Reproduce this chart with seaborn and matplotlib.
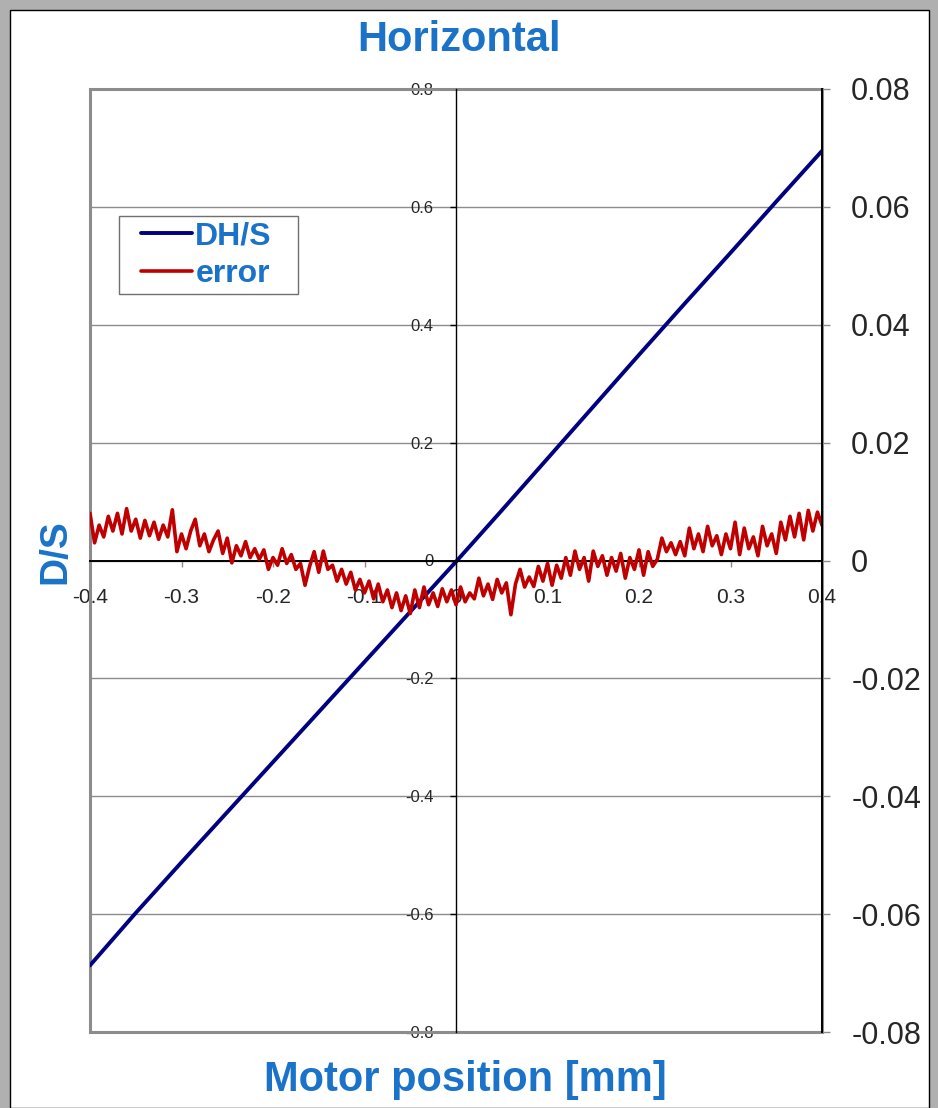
import numpy as np
import pandas as pd
import seaborn as sns
import matplotlib.pyplot as plt
from matplotlib.patches import Rectangle
from matplotlib.lines import Line2D
from matplotlib.ticker import FuncFormatter

# DH/S signal, read every 0.05 mm
dhs_pos = [-0.40, -0.35, -0.30, -0.25, -0.20, -0.15, -0.10, -0.05, 0.00,
           0.05, 0.10, 0.15, 0.20, 0.25, 0.30, 0.35, 0.40]
dhs_val = [-0.687, -0.598, -0.512, -0.427, -0.342, -0.257, -0.172, -0.087, -0.002,
           0.085, 0.173, 0.261, 0.349, 0.436, 0.522, 0.609, 0.695]

# error (right axis), read every 0.005 mm from -0.4 to 0.4
err_val = [
    0.0080, 0.0030, 0.0060, 0.0040, 0.0075, 0.0050, 0.0080, 0.0045, 0.0088, 0.0050,
    0.0070, 0.0038, 0.0068, 0.0042, 0.0065, 0.0036, 0.0060, 0.0040, 0.0086, 0.0015,
    0.0045, 0.0020, 0.0050, 0.0070, 0.0025, 0.0045, 0.0015, 0.0035, 0.0050, 0.0012,
    0.0038, -0.0004, 0.0025, 0.0008, 0.0032, 0.0005, 0.0020, 0.0002, 0.0018, -0.0015,
    0.0005, -0.0008, 0.0020, -0.0005, 0.0010, -0.0015, -0.0005, -0.0042, -0.0010, 0.0015,
    -0.0020, 0.0016, -0.0015, -0.0008, -0.0035, -0.0015, -0.0040, -0.0020, -0.0050, -0.0032,
    -0.0055, -0.0035, -0.0065, -0.0040, -0.0070, -0.0050, -0.0080, -0.0055, -0.0085, -0.0060,
    -0.0090, -0.0050, -0.0080, -0.0045, -0.0075, -0.0055, -0.0078, -0.0048, -0.0070, -0.0050,
    -0.0075, -0.0045, -0.0070, -0.0055, -0.0065, -0.0030, -0.0060, -0.0040, -0.0066, -0.0032,
    -0.0055, -0.0038, -0.0092, -0.0040, -0.0015, -0.0045, -0.0028, -0.0044, -0.0010, -0.0035,
    -0.0005, -0.0042, -0.0008, -0.0030, 0.0005, -0.0025, 0.0016, -0.0015, 0.0005, -0.0035,
    0.0016, -0.0010, 0.0008, -0.0025, 0.0005, -0.0018, 0.0012, -0.0030, 0.0005, -0.0015,
    0.0018, -0.0025, 0.0015, -0.0010, 0.0002, 0.0038, 0.0015, 0.0030, 0.0010, 0.0032,
    0.0008, 0.0055, 0.0020, 0.0045, 0.0015, 0.0058, 0.0025, 0.0042, 0.0010, 0.0045,
    0.0020, 0.0065, 0.0010, 0.0055, 0.0020, 0.0040, 0.0008, 0.0058, 0.0025, 0.0045,
    0.0012, 0.0065, 0.0035, 0.0075, 0.0040, 0.0080, 0.0035, 0.0085, 0.0050, 0.0082,
    0.0060,
]
err_pos = np.linspace(-0.4, 0.4, len(err_val))

x_ticks = [-0.4, -0.3, -0.2, -0.1, 0.0, 0.1, 0.2, 0.3, 0.4]
left_ticks = [-0.8, -0.6, -0.4, -0.2, 0.0, 0.2, 0.4, 0.6, 0.8]
right_ticks = [-0.08, -0.06, -0.04, -0.02, 0.0, 0.02, 0.04, 0.06, 0.08]

BLUE_TXT = '#1a73c9'
NAVY = '#000080'
RED = '#c00000'
GRID = '#8c8c8c'

sns.set_style("white")
plt.rcParams['font.family'] = ['Liberation Sans', 'DejaVu Sans']

W, H = 938, 1108
fig = plt.figure(figsize=(W / 100, H / 100), dpi=100, facecolor='#b0b0b0')
fig.patches.append(Rectangle((10 / W, 0), (929 - 10) / W, (H - 10) / H,
                             transform=fig.transFigure, facecolor='white',
                             edgecolor='black', lw=1, zorder=-1))

ax = fig.add_axes([90 / W, 1 - 1032 / H, (822 - 90) / W, (1032 - 89) / H])
ax2 = ax.twinx()

df_dhs = pd.DataFrame({'pos': dhs_pos, 'val': dhs_val})
df_err = pd.DataFrame({'pos': err_pos, 'val': err_val})

sns.lineplot(data=df_dhs, x='pos', y='val', ax=ax, color=NAVY, lw=2.8,
             label='DH/S', legend=False)
sns.lineplot(data=df_err, x='pos', y='val', ax=ax2, color=RED, lw=2.6,
             label='error', legend=False)

fmt = FuncFormatter(lambda v, p: f"{round(v, 4) + 0:g}")

ax.set_xlim(-0.4, 0.4)
ax.set_ylim(-0.8, 0.8)
ax2.set_ylim(-0.08, 0.08)
ax.set_xticks(x_ticks)
ax.set_yticks(left_ticks)
ax2.set_yticks(right_ticks)
ax.xaxis.set_major_formatter(fmt)
ax.yaxis.set_major_formatter(fmt)
ax2.yaxis.set_major_formatter(fmt)
ax.set_xlabel('')
ax.set_ylabel('')
ax2.set_ylabel('')

ax.yaxis.grid(True, color=GRID, lw=1)
ax.xaxis.grid(False)

for s in ['top', 'right']:
    ax.spines[s].set_visible(False)
ax.spines['left'].set_position(('data', 0))
ax.spines['bottom'].set_position(('data', 0))
ax.spines['left'].set_color('black')
ax.spines['bottom'].set_color('black')
ax.spines['left'].set_linewidth(1.0)
ax.spines['bottom'].set_linewidth(1.4)

for s in ['top', 'left', 'bottom']:
    ax2.spines[s].set_visible(False)
ax2.spines['right'].set_color('black')
ax2.spines['right'].set_linewidth(1.4)

# plot-area frame
ax.add_patch(Rectangle((0, 0), 1, 1, transform=ax.transAxes, fill=False,
                       edgecolor=GRID, lw=2.2, clip_on=False, zorder=1))

ax.tick_params(axis='x', bottom=True, direction='out', length=4, width=1,
               color=GRID, labelsize=15, pad=16)
ax.tick_params(axis='y', left=True, direction='out', length=4, width=1,
               color='black', labelsize=12, pad=12)
ax2.tick_params(axis='y', right=True, direction='out', length=6, width=1,
                color=GRID, labelsize=22, pad=15)

fig.text(459 / W, 1 - 40 / H, 'Horizontal', ha='center', va='center',
         fontsize=30, fontweight='bold', color=BLUE_TXT)
fig.text(465 / W, 1 - 1080 / H, 'Motor position [mm]', ha='center', va='center',
         fontsize=30, fontweight='bold', color=BLUE_TXT)
fig.text(55 / W, 1 - 552 / H, 'D/S', ha='center', va='center', rotation=90,
         fontsize=28, fontweight='bold', color=BLUE_TXT)

# legend with a plain box
fig.patches.append(Rectangle((119 / W, 1 - 294 / H), (298 - 119) / W, (294 - 216) / H,
                             transform=fig.transFigure, facecolor='white',
                             edgecolor='#707070', lw=1, zorder=3))
handles = [Line2D([], [], color=NAVY, lw=2.8), Line2D([], [], color=RED, lw=2.6)]
leg = fig.legend(handles, ['DH/S', 'error'], loc='center left',
                 bbox_to_anchor=(141 / W, 1 - 255 / H), frameon=False,
                 borderpad=0, borderaxespad=0, handlelength=1.6,
                 handletextpad=0.1, labelspacing=0.25,
                 prop={'size': 23, 'weight': 'bold'})
leg.set_zorder(4)
for t in leg.get_texts():
    t.set_color(BLUE_TXT)

fig.savefig('out.png', dpi=100, facecolor=fig.get_facecolor())
